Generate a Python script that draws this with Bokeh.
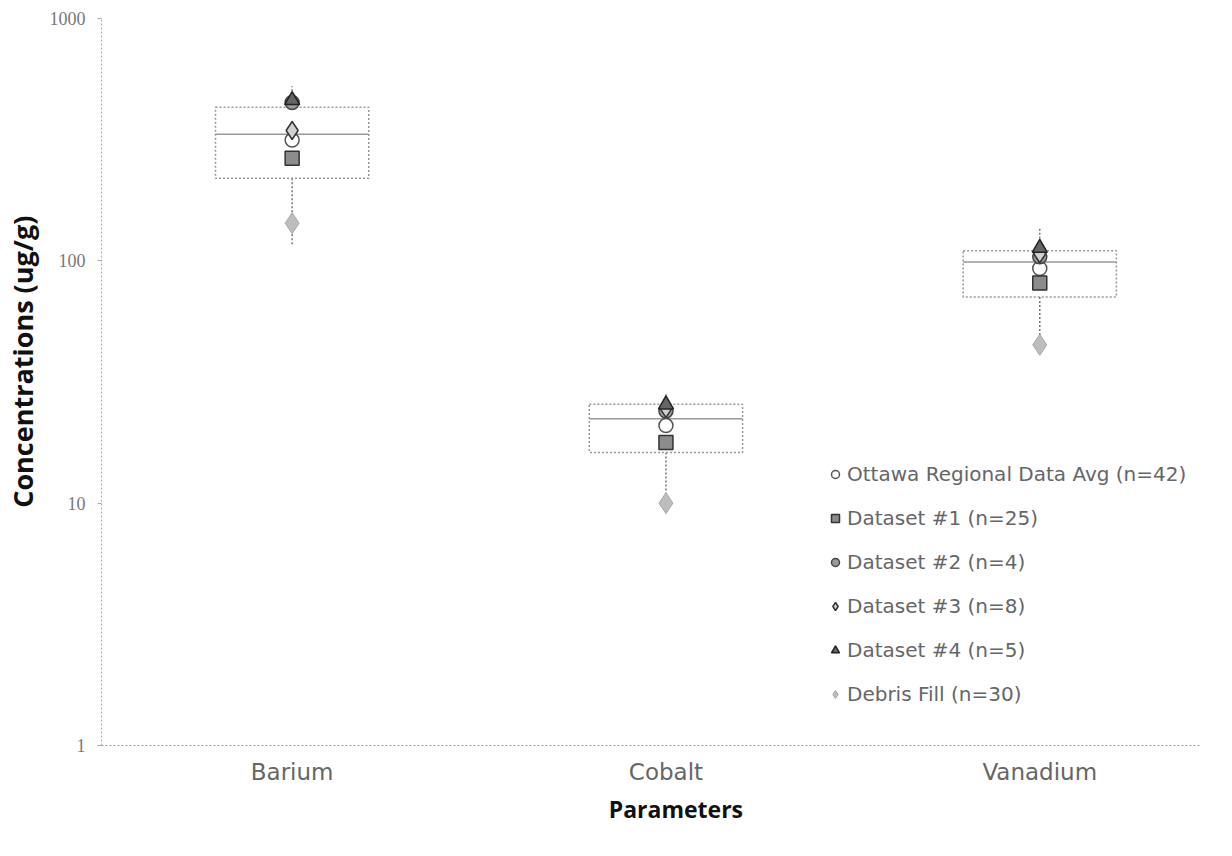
from bokeh.plotting import figure
from bokeh.models import Range1d, FixedTicker, PrintfTickFormatter, Legend, LegendItem
from bokeh.embed import file_html
from bokeh.resources import INLINE

params = ["Barium", "Cobalt", "Vanadium"]
q1 = [219, 16.2, 71]
median = [333, 22.3, 99]
q3 = [430, 25.6, 110]
whisk_lo = [116, 10.0, 42]
whisk_hi = [525, 28.6, 136]

ottawa = [315, 20.9, 93]
ds1 = [265, 17.8, 81]
ds2 = [450, 24.0, 104]
ds3 = [345, 24.6, 107]
ds4 = [460, 25.5, 113]
debris = [143, 10.0, 45]

pos = [1, 2, 3]
bw = 0.41

p = figure(width=1216, height=840, output_backend="svg", toolbar_location=None,
           y_axis_type="log", x_range=Range1d(0.49, 3.43), y_range=Range1d(1, 1000),
           min_border_left=100, min_border_top=18, min_border_right=16, min_border_bottom=95)
p.outline_line_color = None
p.xgrid.visible = False
p.ygrid.visible = False
p.background_fill_color = "white"

# whiskers
p.segment(x0=pos, x1=pos, y0=q3, y1=whisk_hi, line_color="#777777", line_dash="2 2", line_width=1.5)
p.segment(x0=pos, x1=pos, y0=q1, y1=whisk_lo, line_color="#777777", line_dash="2 2", line_width=1.5)
# boxes
p.vbar(x=pos, width=bw, bottom=q1, top=q3, fill_color="white", line_color="#999999",
       line_dash="2 2", line_width=1.5)
p.segment(x0=[x - bw / 2 for x in pos], x1=[x + bw / 2 for x in pos], y0=median, y1=median,
          line_color="#999999", line_width=1.5)

r_deb = p.scatter(x=pos, y=debris, marker="diamond", size=21, fill_color="#bdbdbd", line_color="#a8a8a8")
r_ott = p.scatter(x=pos, y=ottawa, marker="circle", size=14, fill_color="white", line_color="#555555", line_width=1.5)
r_d1 = p.scatter(x=pos, y=ds1, marker="square", size=14, fill_color="#8c8c8c", line_color="#333333", line_width=1.5)
r_d2 = p.scatter(x=pos, y=ds2, marker="circle", size=14, fill_color="#9a9a9a", line_color="#444444", line_width=1.5)
r_d3 = p.scatter(x=pos, y=ds3, marker="diamond", size=18, fill_color="#d0d0d0", line_color="#333333", line_width=1.5)
r_d4 = p.scatter(x=pos, y=ds4, marker="triangle", size=15, fill_color="#666666", line_color="#222222", line_width=1.5)

legend = Legend(items=[
    LegendItem(label="Ottawa Regional Data Avg (n=42)", renderers=[r_ott]),
    LegendItem(label="Dataset #1 (n=25)", renderers=[r_d1]),
    LegendItem(label="Dataset #2 (n=4)", renderers=[r_d2]),
    LegendItem(label="Dataset #3 (n=8)", renderers=[r_d3]),
    LegendItem(label="Dataset #4 (n=5)", renderers=[r_d4]),
    LegendItem(label="Debris Fill (n=30)", renderers=[r_deb]),
], location=(724, 39))
legend.glyph_width = 20
legend.glyph_height = 24
legend.label_height = 20
legend.spacing = 20
legend.padding = 0
legend.margin = 0
legend.label_standoff = 2
legend.border_line_color = None
legend.background_fill_alpha = 0
legend.label_text_font = "DejaVu Sans"
legend.label_text_font_size = "20px"
legend.label_text_color = "#666666"
p.add_layout(legend, "center")

# axes
p.xaxis.ticker = FixedTicker(ticks=pos)
p.xaxis.major_label_overrides = {i + 1: name for i, name in enumerate(params)}
p.xaxis.major_label_text_font = "DejaVu Sans"
p.xaxis.major_label_text_font_size = "23px"
p.xaxis.major_label_text_color = "#666666"
p.xaxis.major_label_standoff = 7
p.xaxis.major_tick_line_color = None
p.xaxis.minor_tick_line_color = None
p.xaxis.axis_line_color = "#999999"
p.xaxis.axis_line_dash = "2 2"
p.xaxis.axis_label = "\u2002\u2002\u2002\u2002\u2009Parameters"
p.xaxis.axis_label_text_font = "Open Sans"
p.xaxis.axis_label_text_font_style = "bold"
p.xaxis.axis_label_text_font_size = "23px"
p.xaxis.axis_label_text_color = "#111111"
p.xaxis.axis_label_standoff = 5

p.yaxis.ticker = FixedTicker(ticks=[1, 10, 100, 1000])
p.yaxis.formatter = PrintfTickFormatter(format="%d")
p.yaxis.major_label_text_font = "Liberation Serif"
p.yaxis.major_label_text_font_size = "18px"
p.yaxis.major_label_text_color = "#777777"
p.yaxis.major_label_standoff = 12
p.yaxis.major_tick_line_color = "#aaaaaa"
p.yaxis.major_tick_out = 4
p.yaxis.major_tick_in = 0
p.yaxis.minor_tick_line_color = None
p.yaxis.axis_line_color = "#aaaaaa"
p.yaxis.axis_line_dash = "2 2"
p.yaxis.axis_label = "\u2002\u2002\u2002Concentrations (ug/g)"
p.yaxis.axis_label_text_font = "Open Sans"
p.yaxis.axis_label_text_font_style = "bold"
p.yaxis.axis_label_text_font_size = "27px"
p.yaxis.axis_label_text_color = "#111111"
p.yaxis.axis_label_standoff = 6

open("out.html", "w").write(file_html(p, INLINE))
